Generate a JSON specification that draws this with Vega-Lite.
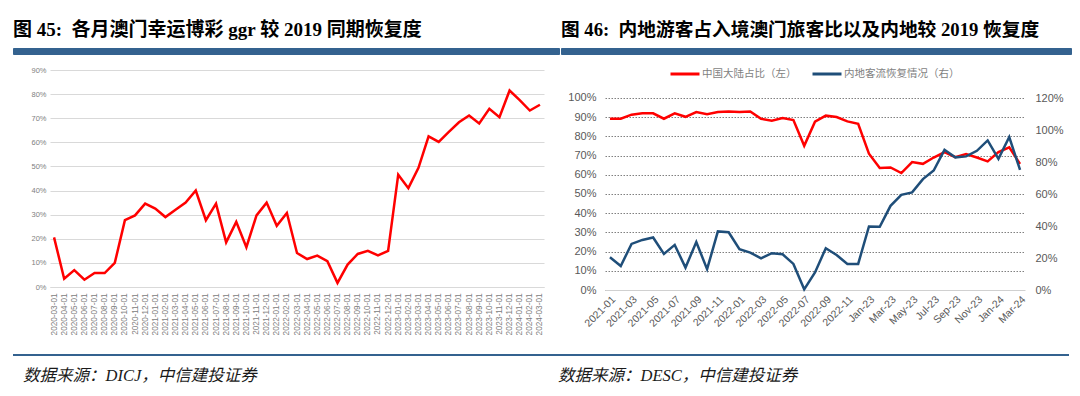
{
  "$schema": "https://vega.github.io/schema/vega-lite/v6.json",
  "background": "white",
  "padding": {"left": 12, "top": 20, "right": 0, "bottom": 0},
  "config": {
    "view": {"stroke": null},
    "font": "Liberation Sans",
    "axis": {"labelFont": "Liberation Sans"}
  },
  "spacing": 1,
  "resolve": {"scale": {"color": "independent"}, "legend": {"color": "independent"}},
  "vconcat": [
    {
      "spacing": 0,
      "hconcat": [
        {
          "width": 546, "height": 6,
          "view": {"stroke": "#34628f", "strokeWidth": 1, "fill": "#34628f"},
          "data": {"values": [{}]},
          "mark": {"type": "text"},
          "encoding": {"text": {"value": ""}},
          "title": {"text": "图 45:\u00a0\u00a0各月澳门幸运博彩 ggr 较 2019 同期恢复度", "anchor": "start", "font": "'Liberation Serif', 'Noto Sans CJK SC'", "fontSize": 19, "fontWeight": "bold", "color": "#000000", "offset": 5}
        },
        {
          "width": 510, "height": 6,
          "view": {"stroke": "#34628f", "strokeWidth": 1, "fill": "#34628f"},
          "data": {"values": [{}]},
          "mark": {"type": "text"},
          "encoding": {"text": {"value": ""}},
          "title": {"text": "图 46:\u00a0\u00a0内地游客占入境澳门旅客比以及内地较 2019 恢复度", "anchor": "start", "font": "'Liberation Serif', 'Noto Sans CJK SC'", "fontSize": 18.7, "fontWeight": "bold", "color": "#000000", "offset": 5}
        }
      ]
    },
    {
      "spacing": 14,
      "resolve": {"scale": {"color": "independent"}, "legend": {"color": "independent"}},
      "vconcat": [
        {
          "spacing": 22,
          "resolve": {"scale": {"color": "independent"}, "legend": {"color": "independent"}},
          "hconcat": [
            {
              "width": 531, "height": 217,
              "data": {"values": [
                {"d": "2020-03-01", "v": 0.206}, {"d": "2020-04-01", "v": 0.034}, {"d": "2020-05-01", "v": 0.070}, {"d": "2020-06-01", "v": 0.030},
                {"d": "2020-07-01", "v": 0.058}, {"d": "2020-08-01", "v": 0.058}, {"d": "2020-09-01", "v": 0.100}, {"d": "2020-10-01", "v": 0.277},
                {"d": "2020-11-01", "v": 0.297}, {"d": "2020-12-01", "v": 0.346}, {"d": "2021-01-01", "v": 0.325}, {"d": "2021-02-01", "v": 0.290},
                {"d": "2021-03-01", "v": 0.320}, {"d": "2021-04-01", "v": 0.350}, {"d": "2021-05-01", "v": 0.400}, {"d": "2021-06-01", "v": 0.277},
                {"d": "2021-07-01", "v": 0.346}, {"d": "2021-08-01", "v": 0.185}, {"d": "2021-09-01", "v": 0.270}, {"d": "2021-10-01", "v": 0.165},
                {"d": "2021-11-01", "v": 0.297}, {"d": "2021-12-01", "v": 0.350}, {"d": "2022-01-01", "v": 0.254}, {"d": "2022-02-01", "v": 0.307},
                {"d": "2022-03-01", "v": 0.141}, {"d": "2022-04-01", "v": 0.116}, {"d": "2022-05-01", "v": 0.130}, {"d": "2022-06-01", "v": 0.107},
                {"d": "2022-07-01", "v": 0.017}, {"d": "2022-08-01", "v": 0.093}, {"d": "2022-09-01", "v": 0.137}, {"d": "2022-10-01", "v": 0.150},
                {"d": "2022-11-01", "v": 0.131}, {"d": "2022-12-01", "v": 0.150}, {"d": "2023-01-01", "v": 0.466}, {"d": "2023-02-01", "v": 0.410},
                {"d": "2023-03-01", "v": 0.494}, {"d": "2023-04-01", "v": 0.625}, {"d": "2023-05-01", "v": 0.602}, {"d": "2023-06-01", "v": 0.643},
                {"d": "2023-07-01", "v": 0.683}, {"d": "2023-08-01", "v": 0.711}, {"d": "2023-09-01", "v": 0.678}, {"d": "2023-10-01", "v": 0.739},
                {"d": "2023-11-01", "v": 0.704}, {"d": "2023-12-01", "v": 0.815}, {"d": "2024-01-01", "v": 0.775}, {"d": "2024-02-01", "v": 0.732},
                {"d": "2024-03-01", "v": 0.756}
              ]},
              "mark": {"type": "line", "color": "#ff0000", "strokeWidth": 2.5},
              "encoding": {
                "x": {"field": "d", "type": "ordinal", "sort": null, "scale": {"type": "point", "padding": 0.4, "range": [37, 531]},
                      "axis": {"title": null, "labelAngle": -90, "labelFontSize": 8.2, "labelColor": "#808080", "ticks": false, "domainColor": "#d9d9d9", "labelPadding": 6, "labelOverlap": false, "grid": false}},
                "y": {"field": "v", "type": "quantitative", "scale": {"domain": [0, 0.9], "nice": false},
                      "axis": {"title": null, "values": [0, 0.1, 0.2, 0.3, 0.4, 0.5, 0.6, 0.7, 0.8, 0.9], "format": ".0%", "labelFontSize": 7.5, "labelColor": "#808080", "ticks": false, "domain": false, "grid": true, "gridColor": "#d9d9d9", "labelPadding": 4, "offset": -37}}
              }
            },
            {
              "width": 420, "height": 220,
              "data": {"values": [
                {"m": "2021-01", "share": 0.892, "rec": 0.205}, {"m": "2021-02", "share": 0.892, "rec": 0.150}, {"m": "2021-03", "share": 0.913, "rec": 0.288},
                {"m": "2021-04", "share": 0.920, "rec": 0.313}, {"m": "2021-05", "share": 0.920, "rec": 0.328}, {"m": "2021-06", "share": 0.892, "rec": 0.225},
                {"m": "2021-07", "share": 0.920, "rec": 0.282}, {"m": "2021-08", "share": 0.902, "rec": 0.140}, {"m": "2021-09", "share": 0.927, "rec": 0.300},
                {"m": "2021-10", "share": 0.916, "rec": 0.130}, {"m": "2021-11", "share": 0.927, "rec": 0.366}, {"m": "2021-12", "share": 0.930, "rec": 0.361},
                {"m": "2022-01", "share": 0.927, "rec": 0.255}, {"m": "2022-02", "share": 0.930, "rec": 0.234}, {"m": "2022-03", "share": 0.892, "rec": 0.198},
                {"m": "2022-04", "share": 0.882, "rec": 0.230}, {"m": "2022-05", "share": 0.896, "rec": 0.223}, {"m": "2022-06", "share": 0.885, "rec": 0.163},
                {"m": "2022-07", "share": 0.751, "rec": 0.004}, {"m": "2022-08", "share": 0.877, "rec": 0.110}, {"m": "2022-09", "share": 0.908, "rec": 0.261},
                {"m": "2022-10", "share": 0.901, "rec": 0.219}, {"m": "2022-11", "share": 0.878, "rec": 0.163}, {"m": "2022-12", "share": 0.866, "rec": 0.163},
                {"m": "Jan-23", "share": 0.710, "rec": 0.397}, {"m": "Feb-23", "share": 0.635, "rec": 0.395}, {"m": "Mar-23", "share": 0.638, "rec": 0.526},
                {"m": "Apr-23", "share": 0.609, "rec": 0.595}, {"m": "May-23", "share": 0.666, "rec": 0.610}, {"m": "Jun-23", "share": 0.657, "rec": 0.693},
                {"m": "Jul-23", "share": 0.690, "rec": 0.747}, {"m": "Aug-23", "share": 0.718, "rec": 0.876}, {"m": "Sep-23", "share": 0.692, "rec": 0.829},
                {"m": "Oct-23", "share": 0.708, "rec": 0.835}, {"m": "Nov-23", "share": 0.690, "rec": 0.870}, {"m": "Dec-23", "share": 0.670, "rec": 0.935},
                {"m": "Jan-24", "share": 0.718, "rec": 0.820}, {"m": "Feb-24", "share": 0.743, "rec": 0.956}, {"m": "Mar-24", "share": 0.657, "rec": 0.751}
              ]},
              "encoding": {
                "x": {"field": "m", "type": "ordinal", "sort": null, "scale": {"type": "point", "padding": 0.46},
                      "axis": {"title": null, "values": ["2021-01", "2021-03", "2021-05", "2021-07", "2021-09", "2021-11", "2022-01", "2022-03", "2022-05", "2022-07", "2022-09", "2022-11", "Jan-23", "Mar-23", "May-23", "Jul-23", "Sep-23", "Nov-23", "Jan-24", "Mar-24"],
                               "labelAngle": -45, "labelFontSize": 10.5, "labelColor": "#595959", "ticks": false, "domainColor": "#d0d0d0", "labelPadding": 4, "labelOverlap": false, "grid": false}}
              },
              "layer": [
                {
                  "mark": {"type": "line", "strokeWidth": 2.5},
                  "encoding": {
                    "y": {"field": "share", "type": "quantitative", "scale": {"domain": [0, 1.14583], "nice": false},
                          "axis": {"title": null, "values": [0, 0.1, 0.2, 0.3, 0.4, 0.5, 0.6, 0.7, 0.8, 0.9, 1.0], "format": ".0%", "labelFontSize": 11, "labelColor": "#595959", "ticks": false, "domain": false, "grid": true, "gridColor": "#808080", "gridDash": [1.5, 1.5], "labelPadding": 9, "minExtent": 37}},
                    "color": {"datum": "中国大陆占比（左）", "type": "nominal",
                              "scale": {"domain": ["中国大陆占比（左）", "内地客流恢复情况（右）"], "range": ["#ff0000", "#1f4e79"]},
                              "legend": {"orient": "none", "legendX": 64, "legendY": -12, "direction": "horizontal", "title": null, "symbolType": "stroke", "symbolSize": 841, "symbolStrokeWidth": 3, "labelFontSize": 10.5, "labelColor": "#7f7f7f", "labelFont": "Noto Sans CJK SC", "columnPadding": 9, "labelOffset": 1}}
                  }
                },
                {
                  "mark": {"type": "line", "strokeWidth": 2.5},
                  "encoding": {
                    "y": {"field": "rec", "type": "quantitative", "scale": {"domain": [0, 1.375], "nice": false},
                          "axis": {"title": null, "orient": "right", "values": [0, 0.2, 0.4, 0.6, 0.8, 1.0, 1.2], "format": ".0%", "labelFontSize": 11, "labelColor": "#595959", "ticks": false, "domain": false, "grid": false, "labelPadding": 10}},
                    "color": {"datum": "内地客流恢复情况（右）", "type": "nominal"}
                  }
                }
              ],
              "resolve": {"scale": {"y": "independent"}}
            }
          ]
        },
        {
          "spacing": 0,
          "hconcat": [
            {
              "width": 545, "height": 2,
              "view": {"stroke": null, "fill": "#34628f"},
              "data": {"values": [{}]},
              "mark": {"type": "text"},
              "encoding": {"text": {"value": ""}},
              "title": {"text": "数据来源：DICJ，中信建投证券", "orient": "bottom", "anchor": "start", "dx": 10, "font": "'Liberation Serif', 'Noto Sans CJK SC'", "fontSize": 16.5, "fontStyle": "italic", "fontWeight": "normal", "color": "#1a1a1a", "offset": 8}
            },
            {
              "width": 511, "height": 2,
              "view": {"stroke": null, "fill": "#34628f"},
              "data": {"values": [{}]},
              "mark": {"type": "text"},
              "encoding": {"text": {"value": ""}},
              "title": {"text": "数据来源：DESC，中信建投证券", "orient": "bottom", "anchor": "start", "font": "'Liberation Serif', 'Noto Sans CJK SC'", "fontSize": 16.5, "fontStyle": "italic", "fontWeight": "normal", "color": "#1a1a1a", "offset": 8}
            }
          ]
        }
      ]
    }
  ]
}
